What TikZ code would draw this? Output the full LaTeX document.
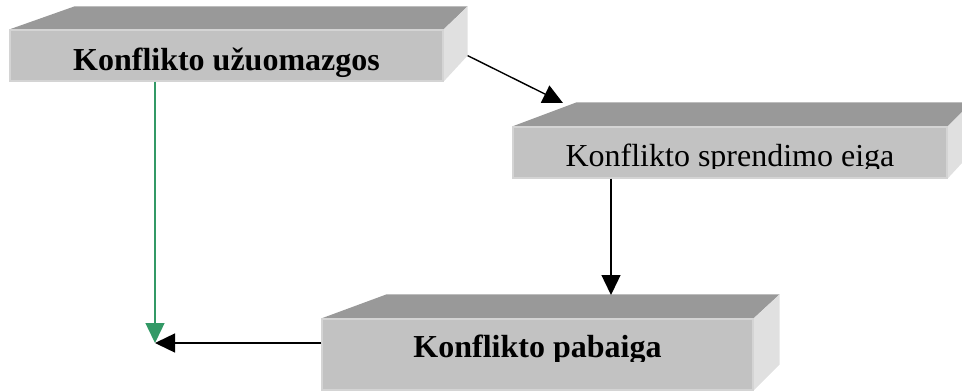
\documentclass[tikz,border=0pt]{standalone}
\usepackage{fontspec}
\setmainfont{Liberation Serif}
\usetikzlibrary{arrows.meta,calc,backgrounds}
\definecolor{topgray}{HTML}{999999}
\definecolor{frontgray}{HTML}{C2C2C2}
\definecolor{sidegray}{HTML}{E0E0E0}
\definecolor{edgegray}{HTML}{D4D4D4}
\definecolor{arrowgreen}{HTML}{339966}
\begin{document}
\begin{tikzpicture}[x=1pt,y=-1pt,
  front/.style={rectangle, fill=frontgray, draw=edgegray, line width=1.2pt, inner sep=0pt},
  lbl/.style={anchor=base, inner sep=0pt, font=\fontsize{32}{38}\selectfont},
  arr/.style={-{Triangle[length=20pt,width=19pt]}, line width=1.4pt}]
\useasboundingbox (0,0) rectangle (962,391);
% front faces
\node[front, minimum width=433pt, minimum height=51pt] (b1) at (226.5,55.5) {};
\node[front, minimum width=434pt, minimum height=51pt] (b2) at (730,152.5) {};
\node[front, minimum width=431pt, minimum height=71pt] (b3) at (537.5,354.5) {};
% top and side faces
\begin{scope}[on background layer]
\fill[topgray] (b1.north west) -- ++(65,-23) -- ($(b1.north east)+(24,-23)$) -- (b1.north east) -- cycle;
\fill[sidegray] (b1.north east) -- ++(24,-23) -- ($(b1.south east)+(24,-26)$) -- (b1.south east) -- cycle;
\fill[topgray] (b2.north west) -- ++(64,-24) -- ($(b2.north east)+(24,-24)$) -- (b2.north east) -- cycle;
\fill[sidegray] (b2.north east) -- ++(24,-24) -- ($(b2.south east)+(24,-26)$) -- (b2.south east) -- cycle;
\fill[topgray] (b3.north west) -- ++(65,-24) -- ($(b3.north east)+(26,-24)$) -- (b3.north east) -- cycle;
\fill[sidegray] (b3.north east) -- ++(26,-24) -- ($(b3.south east)+(26,-26)$) -- (b3.south east) -- cycle;
\end{scope}
% labels
\begin{scope}
\clip (b1.north west) rectangle (b1.south east);
\node[lbl, font=\fontsize{32}{38}\selectfont\bfseries] (t1) at (b1.center |- 0,70) {Konflikto užuomazgos};
\end{scope}
\begin{scope}
\clip (b2.north west) rectangle (b2.east |- 0,168);
\node[lbl] (t2) at (b2.center |- 0,166) {Konflikto sprendimo eiga};
\end{scope}
\begin{scope}
\clip (b3.north west) rectangle (b3.east |- 0,361);
\node[lbl, font=\fontsize{32}{38}\selectfont\bfseries] (t3) at (b3.center |- 0,357) {Konflikto pabaiga};
\end{scope}
% connectors
\coordinate (meet) at (155,343);
\coordinate (b1out) at ($(b1.south east)+(24,-26)$);
\coordinate (b2in) at (563,103);
\coordinate (b3in) at (611,295);
\draw[arr] (b1out) -- (b2in);
\draw[arr] (b2.south -| b3in) -- (b3in);
\draw[arr, arrowgreen] (b1.south -| meet) -- (meet);
\draw[arr] (b3.west |- meet) -- (meet);
\end{tikzpicture}
\end{document}
